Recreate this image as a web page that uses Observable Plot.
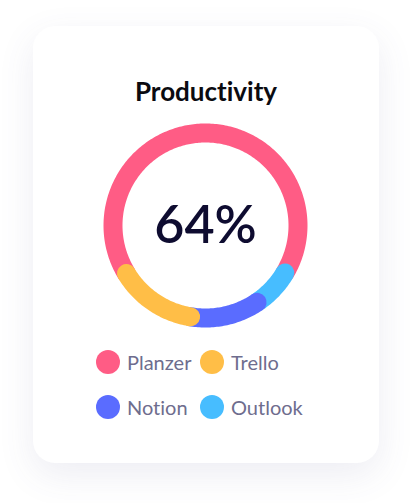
<!DOCTYPE html>
<html><head><meta charset="utf-8">
<script src="https://cdn.jsdelivr.net/npm/d3@7"></script>
<script src="https://cdn.jsdelivr.net/npm/@observablehq/plot@0.6"></script>
<style>
html,body{margin:0;padding:0;background:#fff;width:412px;height:503px;overflow:hidden;font-family:Lato,"Noto Sans",sans-serif;font-variant-ligatures:none;}
#card{position:absolute;left:33px;top:26px;width:346px;height:437px;border-radius:22px;background:#fff;box-shadow:0 12px 36px rgba(80,80,140,0.10);}
#title{position:absolute;left:33px;width:346px;top:76px;text-align:center;font-size:26px;font-weight:700;line-height:1.2;color:#0b0b10;}
#chart{position:absolute;left:95px;top:115px;}
#legend{position:absolute;left:96px;top:339px;display:grid;grid-template-columns:104px 130px;grid-auto-rows:45px;}
.item{display:flex;align-items:center;gap:7px;font-size:20px;line-height:1.2;color:#6e6d8e;}
.sw{width:24px;height:24px;border-radius:50%;flex:none;}
</style></head><body>
<div id="card"></div>
<div id="title">Productivity</div>
<div id="chart"></div>
<div id="legend"></div>
<script>
// Data
const categories = ["Planzer", "Trello", "Notion", "Outlook"];
const values = [64, 17, 12, 7];
const colors = ["#ff5c85", "#ffbe47", "#5a6cff", "#47bdff"];
const centerLabel = "64%";
// Ring layout (clockwise from startAngle, degrees from 12 o'clock)
const ringOrder = ["Outlook", "Notion", "Trello", "Planzer"];
const drawOrder = ["Planzer", "Outlook", "Notion", "Trello"];
const startAngle = 115;

const size = 220, radiusPx = 92.5, strokeW = 19;
const half = (size / 2) / radiusPx;
const capDeg = (strokeW / 2) / radiusPx * 180 / Math.PI;
const total = d3.sum(values);

const bounds = {};
let acc = startAngle;
for (const c of ringOrder) {
  const v = values[categories.indexOf(c)];
  bounds[c] = [acc, acc + v / total * 360];
  acc += v / total * 360;
}
const baseCat = drawOrder[0], topCat = drawOrder[drawOrder.length - 1];
const arcPoints = [];
for (const c of drawOrder) {
  let [s, e] = bounds[c];
  if (c === baseCat) { s -= capDeg; e += capDeg; }
  else if (c === topCat) { s += capDeg; e -= capDeg; }
  else { s += capDeg; e += capDeg; }
  const n = Math.max(2, Math.ceil(e - s));
  for (let i = 0; i <= n; i++) {
    const a = (s + (e - s) * i / n) * Math.PI / 180;
    arcPoints.push({cat: c, x: Math.sin(a), y: Math.cos(a)});
  }
}

const chart = Plot.plot({
  width: size, height: size, margin: 0,
  x: {domain: [-half, half], axis: null},
  y: {domain: [-half, half], axis: null},
  color: {domain: categories, range: colors},
  style: {background: "transparent", overflow: "visible"},
  marks: [
    ...drawOrder.map(c => Plot.line(arcPoints.filter(d => d.cat === c), {
      x: "x", y: "y", stroke: "cat", strokeWidth: strokeW,
      strokeLinecap: "round", strokeLinejoin: "round"
    })),
    Plot.text([centerLabel], {
      frameAnchor: "middle", text: d => d, fontSize: 52, fontWeight: 600,
      fill: "#0e0c30", fontFamily: "Lato", dy: 1
    })
  ]
});
document.getElementById("chart").append(chart);

const color = chart.scale("color");
const legend = document.getElementById("legend");
categories.forEach((c, i) => {
  const item = document.createElement("div");
  item.className = "item";
  const sw = document.createElement("span");
  sw.className = "sw";
  sw.style.background = color.range[color.domain.indexOf(c)];
  const lab = document.createElement("span");
  lab.textContent = c;
  item.append(sw, lab);
  legend.append(item);
});
</script>
</body></html>
